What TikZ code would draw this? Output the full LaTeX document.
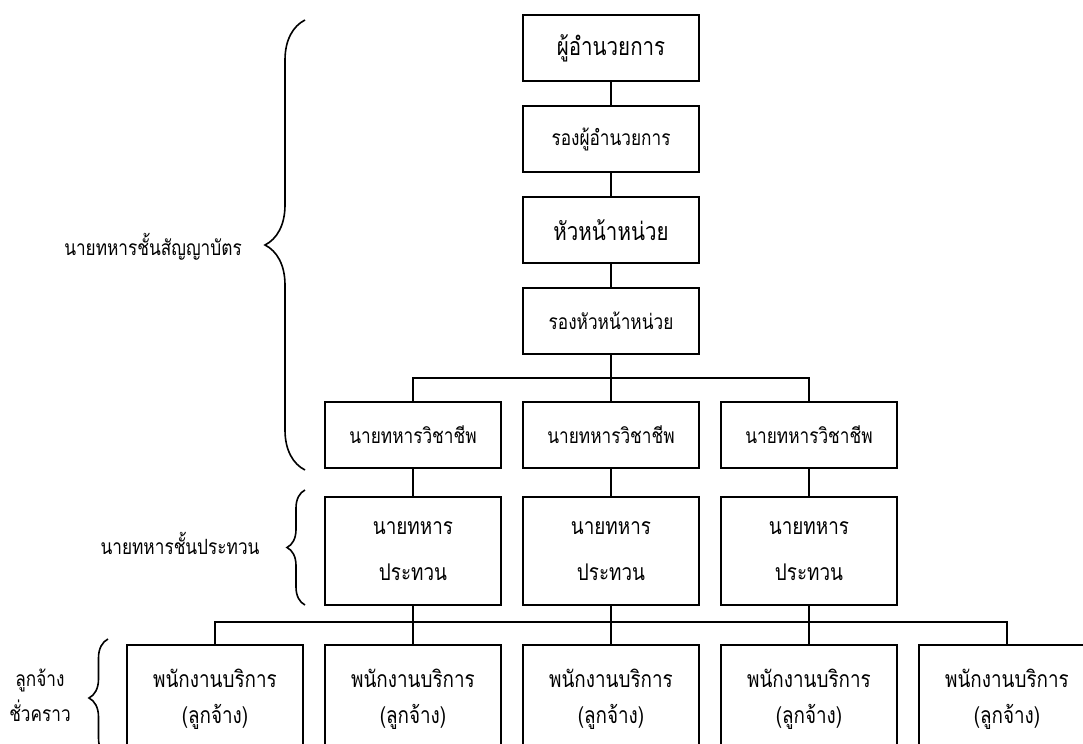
\documentclass[tikz,border=0pt]{standalone}
\usepackage{fontspec}
\setmainfont[Script=Thai, FakeStretch=0.82]{Loma}
\usepackage{tikz}
\usetikzlibrary{positioning, decorations.pathreplacing}
\newcommand{\bigthai}{\fontsize{12.5}{15}\selectfont}
\newcommand{\smallthai}{\fontsize{10.5}{13}\selectfont}
\newcommand{\midthai}{\fontsize{11.5}{14}\selectfont}
\tikzstyle{post} = [rectangle, minimum width=88.1pt, minimum height=33.1pt, text centered, draw=black, line width=0.9pt, inner sep=0pt, font=\smallthai]
\tikzstyle{bigpost} = [post, font=\bigthai]
\tikzstyle{tallpost} = [post, minimum height=54.1pt, align=center, font=\midthai]
\tikzstyle{link} = [line width=0.9pt]
\tikzstyle{bracket} = [line width=0.8pt, decorate]

\begin{document}
\begin{tikzpicture}[x=0.5pt, y=-0.5pt]
		\clip (0,0) rectangle (1083,744);
		\fill[white] (0,0) rectangle (1083,744);
		
		% Top of the chain
		\node (dir) [bigpost] at (611,48) {ผู้อำนวยการ};
		\node (vdir) [post, below=11.5pt of dir] {รองผู้อำนวยการ};
		\node (head) [bigpost, below=11.5pt of vdir] {หัวหน้าหน่วย};
		\node (vhead) [post, below=11.5pt of head] {รองหัวหน้าหน่วย};
		
		% Professional officers
		\node (pro2) [post, below=23pt of vhead] {นายทหารวิชาชีพ};
		\node (pro1) [post, left=10pt of pro2] {นายทหารวิชาชีพ};
		\node (pro3) [post, right=10pt of pro2] {นายทหารวิชาชีพ};
		
		% Non-commissioned officers
		\node (cor1) [tallpost, below=13.5pt of pro1] {นายทหาร\\[9pt]ประทวน};
		\node (cor2) [tallpost, below=13.5pt of pro2] {นายทหาร\\[9pt]ประทวน};
		\node (cor3) [tallpost, below=13.5pt of pro3] {นายทหาร\\[9pt]ประทวน};
		
		% Service staff
		\node (emp3) [tallpost, below=19pt of cor2] {พนักงานบริการ\\[4pt](ลูกจ้าง)};
		\node (emp2) [tallpost, left=10pt of emp3] {พนักงานบริการ\\[4pt](ลูกจ้าง)};
		\node (emp1) [tallpost, left=10pt of emp2] {พนักงานบริการ\\[4pt](ลูกจ้าง)};
		\node (emp4) [tallpost, right=10pt of emp3] {พนักงานบริการ\\[4pt](ลูกจ้าง)};
		\node (emp5) [tallpost, right=10pt of emp4] {พนักงานบริการ\\[4pt](ลูกจ้าง)};
		
		% Links
		\draw [link] (dir) -- (vdir);
		\draw [link] (vdir) -- (head);
		\draw [link] (head) -- (vhead);
		\draw [link] (vhead) -- (pro2);
		\draw [link] (pro1.north) -- ++(0,-23) -| (pro3.north);
		\draw [link] (pro1) -- (cor1);
		\draw [link] (pro2) -- (cor2);
		\draw [link] (pro3) -- (cor3);
		\draw [link] (cor1) -- (emp2);
		\draw [link] (cor2) -- (emp3);
		\draw [link] (cor3) -- (emp4);
		\draw [link] (emp1.north) -- ++(0,-22) -| (emp5.north);
		
		% Braces and group names
		\coordinate (b1top) at (305,20);
		\coordinate (b1bot) at (305,470);
		\coordinate (b2top) at (305,490);
		\coordinate (b2bot) at (305,605);
		\coordinate (b3top) at (108,639);
		\coordinate (b3bot) at (108,757);
		\draw [bracket, decoration={brace, amplitude=20pt}] (b1bot) -- (b1top);
		\draw [bracket, decoration={brace, amplitude=9pt}] (b2bot) -- (b2top);
		\draw [bracket, decoration={brace, amplitude=9.5pt}] (b3bot) -- (b3top);
		\node (commissioned) [font=\smallthai] at (153,247) {นายทหารชั้นสัญญาบัตร};
		\node (noncom) [font=\smallthai] at (180,543) {นายทหารชั้นประทวน};
		\node (temp) [font=\smallthai, align=center] at (40,695) {ลูกจ้าง\\[3pt]ชั่วคราว};
		
	\end{tikzpicture}
\end{document}
